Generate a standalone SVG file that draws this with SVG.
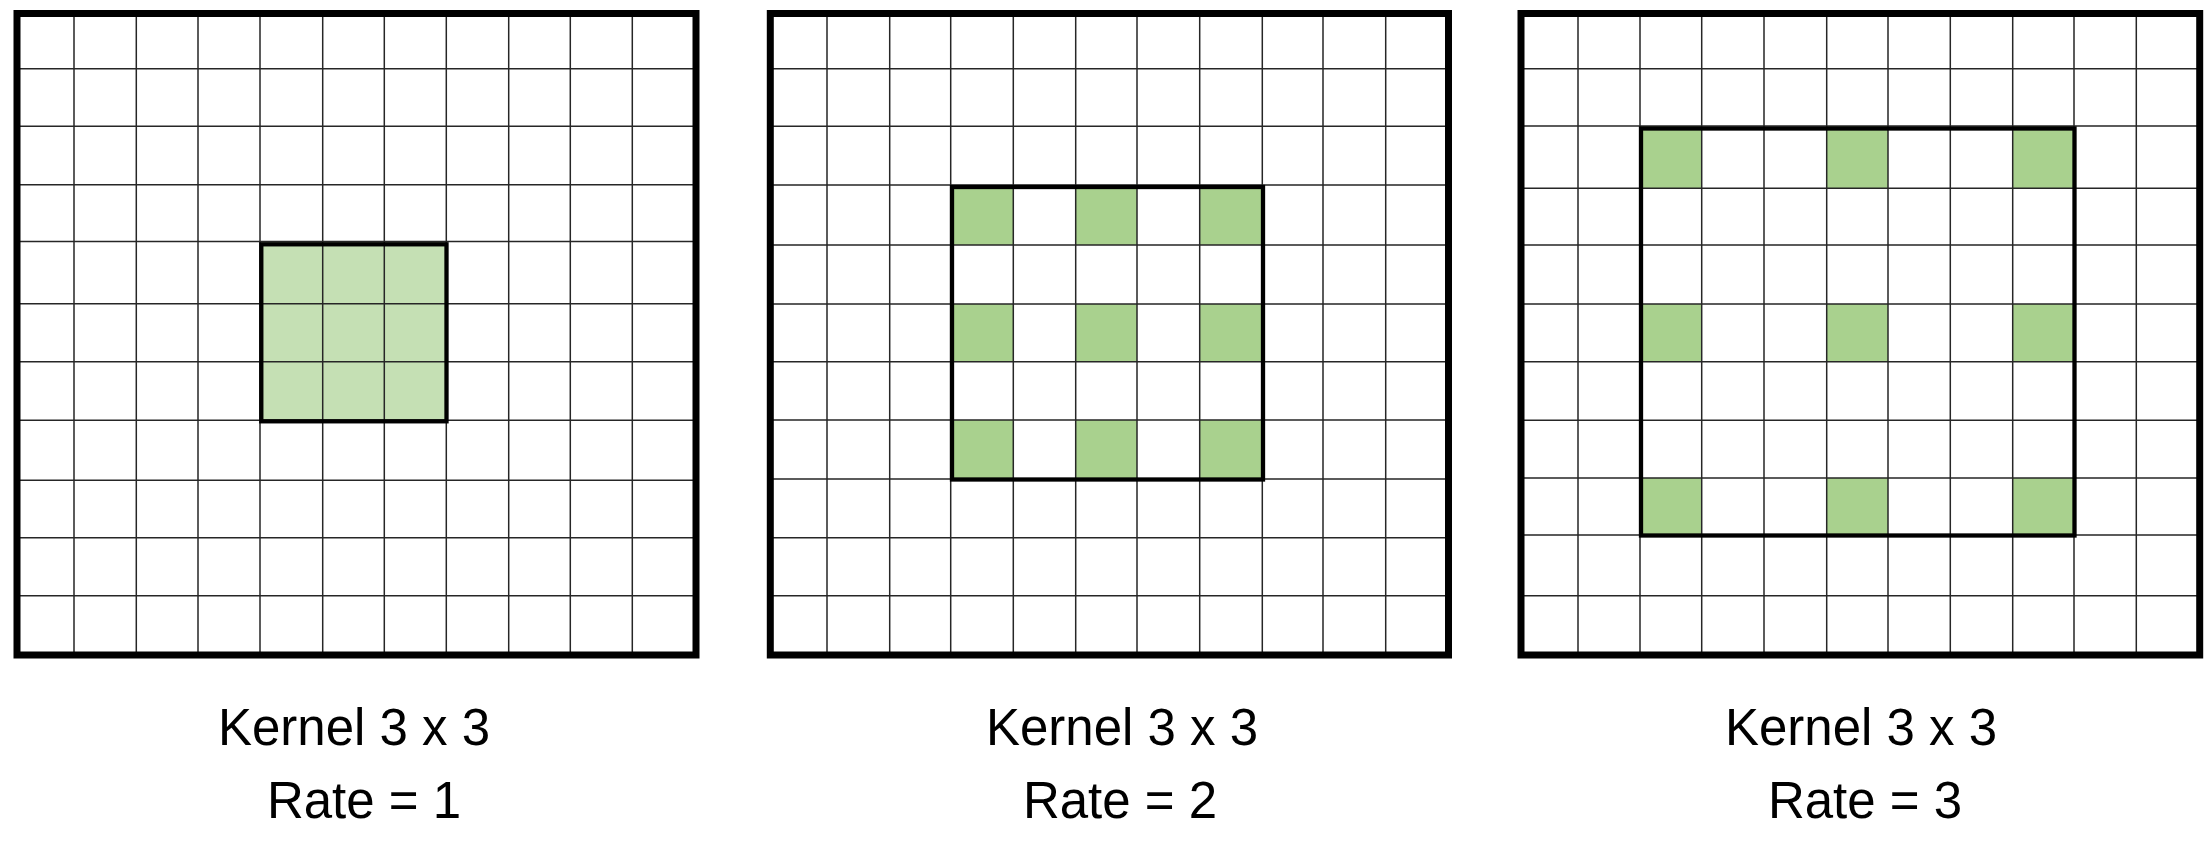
<svg xmlns="http://www.w3.org/2000/svg" width="2211" height="846" viewBox="0 0 2211 846">
<style>
.bg{fill:#ffffff}
.thin{fill:none;stroke:#262626;stroke-width:1.5}
.frame{fill:none;stroke:#000;stroke-width:7}
.kernel{fill:none;stroke:#000;stroke-width:4.3}
.light{fill:#c5e0b4}
.dark{fill:#a9d18e}
.lbl{font-family:"Liberation Sans",Arial,sans-serif;font-size:51px;fill:#000;text-anchor:middle}
</style>
<rect class="bg" x="0" y="0" width="2211" height="846"/>

<g id="panel-rate1">
  <rect class="light" x="260" y="241.5" width="186.3" height="178.8"/>
  <path class="thin" d="M74 13.5V655M136.3 13.5V655M198 13.5V655M260 13.5V655M322.7 13.5V655M384.3 13.5V655M446.3 13.5V655M508.7 13.5V655M570.3 13.5V655M632.3 13.5V655
  M17 68.7H696M17 126.3H696M17 184.7H696M17 241.5H696M17 303.7H696M17 361.7H696M17 420.3H696M17 480.3H696M17 537.7H696M17 595.7H696"/>
  <rect class="frame" x="17" y="13.5" width="679" height="641.5"/>
  <rect class="kernel" x="261.3" y="244.3" width="185.2" height="177"/>
  <text class="lbl" x="354" y="745">Kernel 3 x 3</text>
  <text class="lbl" x="364" y="818">Rate = 1</text>
</g>

<g id="panel-rate2">
  <rect class="dark" x="950.7" y="185" width="62.6" height="60"/>
  <rect class="dark" x="1075.7" y="185" width="61.3" height="60"/>
  <rect class="dark" x="1199.7" y="185" width="62.6" height="60"/>
  <rect class="dark" x="950.7" y="304" width="62.6" height="57.7"/>
  <rect class="dark" x="1075.7" y="304" width="61.3" height="57.7"/>
  <rect class="dark" x="1199.7" y="304" width="62.6" height="57.7"/>
  <rect class="dark" x="950.7" y="420" width="62.6" height="59"/>
  <rect class="dark" x="1075.7" y="420" width="61.3" height="59"/>
  <rect class="dark" x="1199.7" y="420" width="62.6" height="59"/>
  <path class="thin" d="M827 13.5V655M889.7 13.5V655M950.7 13.5V655M1013.3 13.5V655M1075.7 13.5V655M1137 13.5V655M1199.7 13.5V655M1262.3 13.5V655M1323 13.5V655M1385.7 13.5V655
  M770.3 68.7H1448.5M770.3 126.3H1448.5M770.3 185H1448.5M770.3 245H1448.5M770.3 304H1448.5M770.3 361.7H1448.5M770.3 420H1448.5M770.3 479H1448.5M770.3 537.7H1448.5M770.3 595.7H1448.5"/>
  <rect class="frame" x="770.3" y="13.5" width="678.2" height="641.5"/>
  <rect class="kernel" x="952" y="187" width="311" height="292.5"/>
  <text class="lbl" x="1122" y="745">Kernel 3 x 3</text>
  <text class="lbl" x="1120" y="818">Rate = 2</text>
</g>

<g id="panel-rate3">
  <rect class="dark" x="1640" y="126" width="61.7" height="62.3"/>
  <rect class="dark" x="1826.7" y="126" width="61.3" height="62.3"/>
  <rect class="dark" x="2012.7" y="126" width="61.3" height="62.3"/>
  <rect class="dark" x="1640" y="304" width="61.7" height="57.7"/>
  <rect class="dark" x="1826.7" y="304" width="61.3" height="57.7"/>
  <rect class="dark" x="2012.7" y="304" width="61.3" height="57.7"/>
  <rect class="dark" x="1640" y="478" width="61.7" height="57"/>
  <rect class="dark" x="1826.7" y="478" width="61.3" height="57"/>
  <rect class="dark" x="2012.7" y="478" width="61.3" height="57"/>
  <path class="thin" d="M1578 13.5V655M1640 13.5V655M1701.7 13.5V655M1764 13.5V655M1826.7 13.5V655M1888 13.5V655M1950.3 13.5V655M2012.7 13.5V655M2074 13.5V655M2136.3 13.5V655
  M1521 68.7H2199.7M1521 126H2199.7M1521 188.3H2199.7M1521 245H2199.7M1521 304H2199.7M1521 361.7H2199.7M1521 420.3H2199.7M1521 478H2199.7M1521 535H2199.7M1521 595.7H2199.7"/>
  <rect class="frame" x="1521" y="13.5" width="678.7" height="641.5"/>
  <rect class="kernel" x="1641" y="128.5" width="433.5" height="407"/>
  <text class="lbl" x="1861" y="745">Kernel 3 x 3</text>
  <text class="lbl" x="1865" y="818">Rate = 3</text>
</g>

<g id="connectors"/>
</svg>
